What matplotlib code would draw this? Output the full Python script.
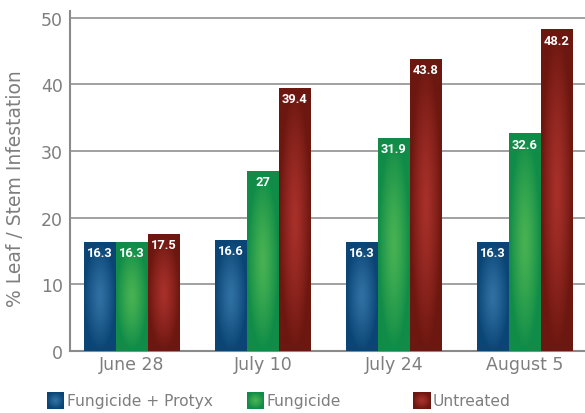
import numpy as np
import matplotlib
matplotlib.use("Agg")
import matplotlib.pyplot as plt

categories = ["June 28", "July 10", "July 24", "August 5"]
series = ["Fungicide + Protyx", "Fungicide", "Untreated"]
protyx = [16.3, 16.6, 16.3, 16.3]
fungicide = [16.3, 27, 31.9, 32.6]
untreated = [17.5, 39.4, 43.8, 48.2]
value_labels = [["16.3", "16.6", "16.3", "16.3"],
                ["16.3", "27", "31.9", "32.6"],
                ["17.5", "39.4", "43.8", "48.2"]]
yticks = [0, 10, 20, 30, 40, 50]

edge_cols = [np.array([0x0a, 0x45, 0x75]) / 255,
             np.array([0x10, 0x8c, 0x48]) / 255,
             np.array([0x6c, 0x17, 0x10]) / 255]
center_cols = [np.array([0x30, 0x70, 0xa2]) / 255,
               np.array([0x48, 0xb2, 0x52]) / 255,
               np.array([0xa8, 0x30, 0x2a]) / 255]

plt.rcParams['font.family'] = ['DejaVu Sans']
grey = "#7e7e7e"

fig = plt.figure(figsize=(5.85, 4.14), dpi=100)
ax = fig.add_axes([0.1197, 0.1498, 0.8803, 0.8212])

def grad_img(c_center, c_edge, n=80, m=40):
    yy, xx = np.mgrid[-1:1:n * 1j, -1:1:m * 1j]
    t = np.sqrt(xx ** 2 + yy ** 2)
    t = np.clip(t, 0, 1) ** 1.3
    img = c_center[None, None, :] * (1 - t[..., None]) + c_edge[None, None, :] * t[..., None]
    return img

x = np.arange(len(categories))
w = 0.244
data = [protyx, fungicide, untreated]
for i, vals in enumerate(data):
    bars = ax.bar(x + (i - 1) * w, vals, width=w, color=edge_cols[i], zorder=2, linewidth=0)
    img = grad_img(center_cols[i], edge_cols[i])
    for j, b in enumerate(bars):
        bx, by, bw, bh = b.get_x(), b.get_y(), b.get_width(), b.get_height()
        ax.imshow(img, extent=(bx, bx + bw, by, by + bh), aspect='auto',
                  zorder=3, interpolation='bilinear')
        ax.text(bx + bw / 2, by + bh - 0.6, value_labels[i][j], ha='center', va='top',
                color='white', fontsize=9.3, fontweight='bold', family=['Roboto', 'DejaVu Sans'],
                zorder=4)

ax.set_xlim(-0.473, 3.458)
ax.set_ylim(0, 51)
ax.set_aspect('auto')
ax.set_yticks(yticks)
ax.set_xticks(x)
ax.set_xticklabels(categories)
ax.tick_params(axis='both', length=0, labelsize=12.5, labelcolor=grey)
ax.tick_params(axis='y', pad=5)
ax.tick_params(axis='x', pad=3)
ax.yaxis.grid(True, color='#9a9a9a', linewidth=1.3, zorder=1)
ax.set_axisbelow(True)
for s in ['top', 'right']:
    ax.spines[s].set_visible(False)
for s in ['left', 'bottom']:
    ax.spines[s].set_color('#8a8a8a')
    ax.spines[s].set_linewidth(1.5)
ax.set_ylabel("% Leaf / Stem Infestation", color=grey, fontsize=13.5)
ax.yaxis.set_label_coords(-0.088, 0.48)

# legend
leg_x = [47, 247, 413]
W, H = 585, 414
for i, name in enumerate(series):
    x0 = leg_x[i] / W
    y0 = 1 - 410 / H
    sq = fig.add_axes([x0, y0, 17 / W, 17 / H])
    sq.imshow(grad_img(center_cols[i], edge_cols[i], 40, 40), extent=(0, 1, 0, 1), aspect='auto')
    sq.set_axis_off()
    fig.text((leg_x[i] + 20) / W, 1 - 401.5 / H, name, ha='left', va='center',
             color=grey, fontsize=11.2)

fig.savefig("out.png", dpi=100)
